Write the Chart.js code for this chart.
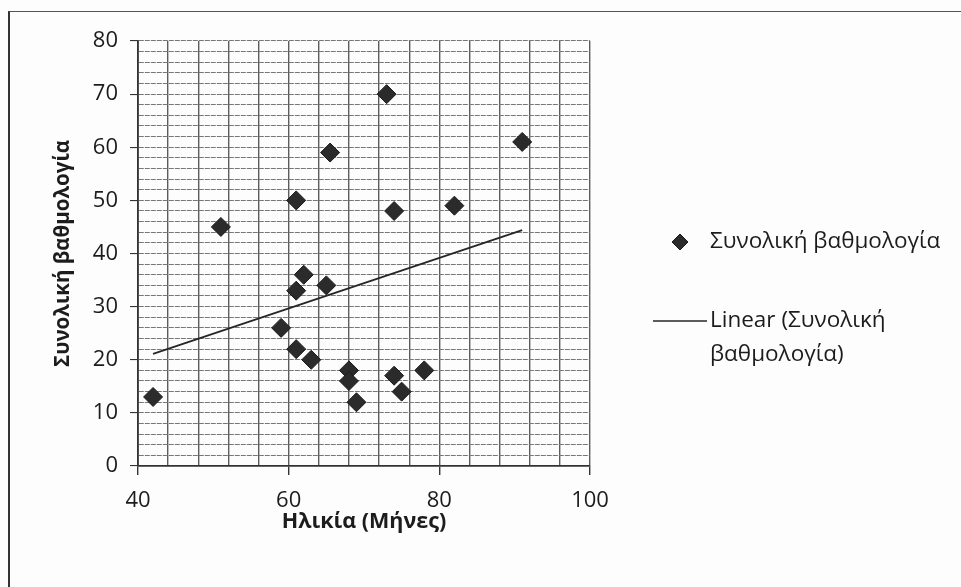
<!DOCTYPE html>
<html>
<head>
<meta charset="utf-8">
<title>Συνολική βαθμολογία</title>
<script src="https://cdn.jsdelivr.net/npm/chart.js@4.4.1/dist/chart.umd.min.js"></script>
<style>
  body { margin: 0; background: #fff; }
  #wrap { position: relative; width: 961px; height: 587px; overflow: hidden; background: #fdfdfd; }
  /* page frame around the figure */
  #frame { position: absolute; left: 8px; top: 11px; right: -5px; bottom: -5px;
           border-left: 2px solid #333; border-top: 1.5px solid #555; }
  canvas { position: absolute; left: 0; top: 0; }
</style>
</head>
<body>
<div id="wrap">
  <div id="frame"></div>
  <canvas id="chart" width="961" height="587"></canvas>
</div>
<script>
// Ηλικία σε μήνες και συνολική βαθμολογία ανά παιδί
const ages   = [42, 51, 61, 65.5, 73, 91, 74, 82, 62, 61, 65, 59, 61, 63, 68, 68, 69, 74, 75, 78];
const scores = [13, 45, 50, 59, 70, 61, 48, 49, 36, 33, 34, 26, 22, 20, 18, 16, 12, 17, 14, 18];

const seriesLabel = 'Συνολική βαθμολογία';
const trendLabel  = 'Linear (Συνολική βαθμολογία)';
const xTitle = 'Ηλικία (Μήνες)';
const yTitle = 'Συνολική βαθμολογία';

const xRange = [40, 100];
const yRange = [0, 80];
const xMajor = 20, xMinor = 4;
const yMajor = 10, yMinor = 2;

const FONT = '"Open Sans", "Noto Sans", sans-serif';
const INK = '#1c1c1c';

// γραμμική τάση (ελάχιστα τετράγωνα) πάνω στα σημεία
function linearFit(xs, ys) {
    const n = xs.length;
    const mx = xs.reduce((a, b) => a + b, 0) / n;
    const my = ys.reduce((a, b) => a + b, 0) / n;
    let sxy = 0, sxx = 0;
    for (let i = 0; i < n; i++) {
        sxy += (xs[i] - mx) * (ys[i] - my);
        sxx += (xs[i] - mx) * (xs[i] - mx);
    }
    const slope = sxy / sxx;
    return { slope: slope, intercept: my - slope * mx };
}

const fit = linearFit(ages, scores);
const xLo = Math.min(...ages), xHi = Math.max(...ages);
const trendPoints = [xLo, xHi].map(x => ({ x: x, y: fit.intercept + fit.slope * x }));
const points = ages.map((a, i) => ({ x: a, y: scores[i] }));

// υπόμνημα στα δεξιά, με αναδίπλωση κειμένου
const sideLegend = {
    id: 'sideLegend',
    afterDraw(chart) {
        const ctx = chart.ctx;
        const rows = [242, 321];
        const textX = 710, lineH = 34, maxW = 250;
        ctx.save();
        ctx.font = '500 22.5px ' + FONT;
        ctx.textBaseline = 'middle';
        chart.data.datasets.forEach((ds, i) => {
            const y = rows[i];
            if (ds.showLine) {
                ctx.strokeStyle = ds.borderColor;
                ctx.lineWidth = 1.5;
                ctx.beginPath();
                ctx.moveTo(653, y);
                ctx.lineTo(707, y);
                ctx.stroke();
            } else {
                ctx.fillStyle = ds.backgroundColor;
                ctx.strokeStyle = ds.borderColor;
                Chart.helpers.drawPoint(ctx, { pointStyle: 'rectRot', radius: 8, borderWidth: 1 }, 680, y);
            }
            // αναδίπλωση λέξεων
            const words = ds.label.split(' ');
            const lines = [];
            let cur = '';
            words.forEach(w => {
                const test = cur ? cur + ' ' + w : w;
                if (cur && ctx.measureText(test).width > maxW) {
                    lines.push(cur);
                    cur = w;
                } else {
                    cur = test;
                }
            });
            lines.push(cur);
            ctx.fillStyle = INK;
            lines.forEach((t, k) => ctx.fillText(t, textX, y + k * lineH));
        });
        ctx.restore();
    }
};

const ctx = document.getElementById('chart').getContext('2d');
new Chart(ctx, {
    type: 'scatter',
    data: {
        datasets: [{
            label: seriesLabel,
            data: points,
            pointStyle: 'rectRot',
            pointRadius: 9.5,
            pointHoverRadius: 9.5,
            backgroundColor: '#2b2b2b',
            borderColor: '#1a1a1a',
            borderWidth: 1,
            showLine: false
        }, {
            label: trendLabel,
            data: trendPoints,
            showLine: true,
            borderColor: '#262626',
            borderWidth: 1.8,
            pointRadius: 0,
            fill: false
        }]
    },
    options: {
        responsive: false,
        animation: false,
        layout: { padding: { left: 0, top: 41, right: 371, bottom: 0 } },
        plugins: {
            legend: { display: false },
            tooltip: { enabled: false }
        },
        scales: {
            x: {
                type: 'linear',
                min: xRange[0],
                max: xRange[1],
                afterFit: s => { s.height = 121; },
                ticks: {
                    stepSize: xMinor,
                    autoSkip: false,
                    maxRotation: 0,
                    padding: 13,
                    color: INK,
                    font: { family: FONT, size: 22, weight: '500' },
                    callback: v => (v % xMajor === 0 ? v : '')
                },
                grid: {
                    color: '#5c5c5c',
                    lineWidth: 1.4,
                    tickLength: 9,
                    tickColor: c => (c.tick && c.tick.value % xMajor === 0 ? '#333' : 'rgba(0,0,0,0)')
                },
                border: { color: '#333', width: 1.8 },
                title: {
                    display: true,
                    text: xTitle,
                    color: INK,
                    font: { family: FONT, size: 21.5, weight: 'bold' },
                    padding: { top: 0, bottom: 52 }
                }
            },
            y: {
                type: 'linear',
                min: yRange[0],
                max: yRange[1],
                afterFit: s => { s.width = 138; },
                ticks: {
                    stepSize: yMinor,
                    autoSkip: false,
                    padding: 12,
                    color: INK,
                    font: { family: FONT, size: 22, weight: '500' },
                    callback: v => (v % yMajor === 0 ? v : '')
                },
                grid: {
                    color: '#777',
                    lineWidth: 1.1,
                    tickLength: 8,
                    tickColor: c => (c.tick && c.tick.value % yMajor === 0 ? '#333' : 'rgba(0,0,0,0)')
                },
                border: { color: '#333', width: 1.8, dash: [5, 1] },
                title: {
                    display: true,
                    text: yTitle,
                    color: INK,
                    font: { family: FONT, size: 20.5, weight: 'bold' },
                    padding: { top: 51, bottom: 0 }
                }
            }
        }
    },
    plugins: [sideLegend]
});
</script>
</body>
</html>
